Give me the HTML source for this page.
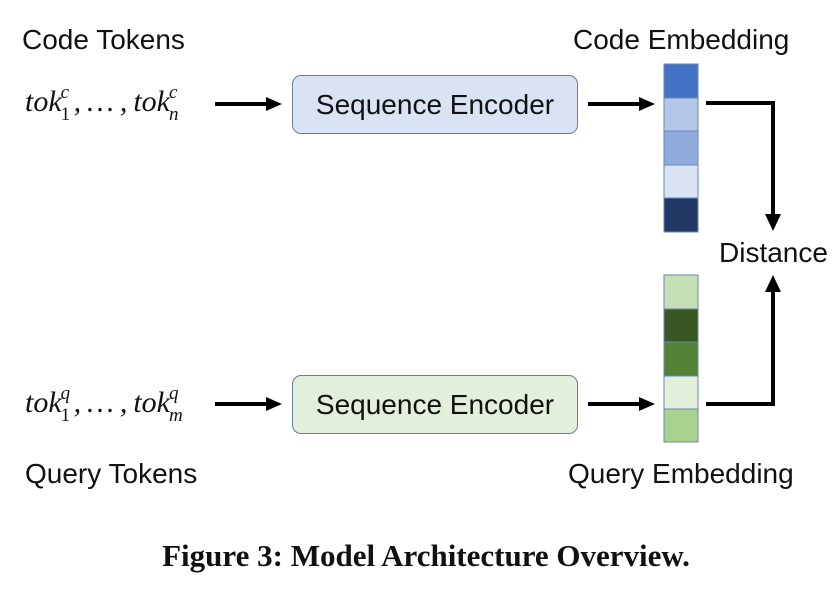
<!DOCTYPE html>
<html><head><meta charset="utf-8"><style>
body{margin:0;background:#fff;width:840px;height:591px;position:relative;overflow:hidden;font-family:"Liberation Sans",Arial,sans-serif}
.t{position:absolute;font-size:28px;color:#111;white-space:nowrap;line-height:32px}
.m{position:absolute;font-family:"Liberation Serif",serif;font-style:italic;font-size:30px;color:#111;white-space:nowrap}
.m span{display:inline-block;position:relative;font-size:19px;width:12px}
.m .s{position:relative;top:9px;left:-1px}
.m .p{position:absolute;top:-13px;left:-1px;font-style:italic}
.box{position:absolute;left:292px;width:284px;height:57px;border:1px solid #6b7c99;border-radius:9px;font-size:28px;text-align:center;line-height:57px;color:#111}
</style></head><body>
<div class="t" style="left:22px;top:24px">Code Tokens</div>
<div class="t" style="left:573px;top:24px">Code Embedding</div>
<div class="t" style="left:719px;top:237px">Distance</div>
<div class="t" style="left:25px;top:458px">Query Tokens</div>
<div class="t" style="left:568px;top:458px">Query Embedding</div>
<div class="m" style="left:25px;top:85px">tok<span><i class="p">c</i><i class="s" style="font-style:normal">1</i></span>,&thinsp;…&thinsp;,&thinsp;tok<span><i class="p">c</i><i class="s">n</i></span></div>
<div class="m" style="left:25px;top:386px">tok<span><i class="p">q</i><i class="s" style="font-style:normal">1</i></span>,&thinsp;…&thinsp;,&thinsp;tok<span><i class="p">q</i><i class="s">m</i></span></div>
<div class="box" style="top:75px;background:#dae3f3">Sequence Encoder</div>
<div class="box" style="top:375px;background:#e2efda">Sequence Encoder</div>
<svg width="840" height="591" style="position:absolute;left:0;top:0">
<g stroke="#6b86b8" stroke-width="1">
<rect x="664" y="64" width="34" height="34" fill="#4472c4"/>
<rect x="664" y="98" width="34" height="33" fill="#b4c7e7"/>
<rect x="664" y="131" width="34" height="34" fill="#8faadc"/>
<rect x="664" y="165" width="34" height="33" fill="#dae3f3"/>
<rect x="664" y="198" width="34" height="34" fill="#203864"/>
<rect x="664" y="275" width="34" height="34" fill="#c5e0b4"/>
<rect x="664" y="309" width="34" height="33" fill="#385723"/>
<rect x="664" y="342" width="34" height="34" fill="#548235"/>
<rect x="664" y="376" width="34" height="33" fill="#e2efda"/>
<rect x="664" y="409" width="34" height="33" fill="#a9d18e"/>
</g>
<g stroke="#000" stroke-width="4" fill="none">
<line x1="215" y1="104" x2="268" y2="104"/>
<line x1="588" y1="104" x2="642" y2="104"/>
<line x1="215" y1="404" x2="268" y2="404"/>
<line x1="588" y1="404" x2="642" y2="404"/>
<polyline points="706,103 773,103 773,216"/>
<polyline points="706,404 773,404 773,290"/>
</g>
<g fill="#000">
<polygon points="282,104 266,97 266,111"/>
<polygon points="655,104 639,97 639,111"/>
<polygon points="282,404 266,397 266,411"/>
<polygon points="655,404 639,397 639,411"/>
<polygon points="773,231 765,214 781,214"/>
<polygon points="773,275 765,292 781,292"/>
</g>
</svg>
<div style="position:absolute;left:0;width:852px;top:538px;text-align:center;font-family:'Liberation Serif',serif;font-weight:bold;font-size:31px;color:#111">Figure 3: Model Architecture Overview.</div>
</body></html>
